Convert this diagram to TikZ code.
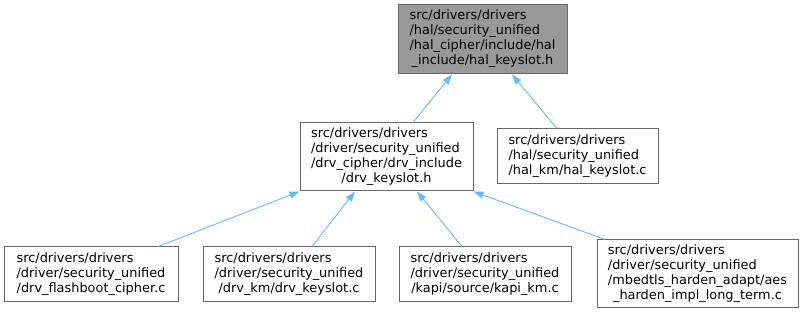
\documentclass[tikz,border=0pt]{standalone}
\usepackage{fontspec}
\setmainfont{DejaVu Sans}
\usepackage{xcolor}
\usetikzlibrary{arrows.meta}

\definecolor{edgeblue}{HTML}{63B8FF}
\definecolor{boxline}{HTML}{666666}
\definecolor{selfill}{HTML}{999999}

% lines flush left, the last one centred
\newcommand{\pathlines}[2]{\begin{tabular}{@{}l@{}}#1\\\multicolumn{1}{@{}c@{}}{#2}\end{tabular}}

\tikzset{
  file/.style={draw=boxline, line width=1pt, fill=white, inner sep=0pt,
    font=\fontsize{12.9}{15}\selectfont},
  self/.style={file, fill=selfill},
  dep/.style={draw=edgeblue, line width=0.9pt, -{Triangle[length=10pt,width=7pt]}}
}

\begin{document}
\begin{tikzpicture}[x=1pt,y=1pt]
    \useasboundingbox (0,0) rectangle (804,315);

    % the header and its two includers
    \node[self, minimum width=169pt, minimum height=69pt] (halh) at (482.5,275.5)
      {\pathlines{src/drivers/drivers\\/hal/security\_unified\\/hal\_cipher/include/hal}{\_include/hal\_keyslot.h}};
    \node[file, minimum width=173pt, minimum height=68pt] (drvh) at (386.5,158)
      {\pathlines{src/drivers/drivers\\/driver/security\_unified\\/drv\_cipher/drv\_include}{/drv\_keyslot.h}};
    \node[file, minimum width=161pt, minimum height=55pt] (halc) at (577.5,158.5)
      {\pathlines{src/drivers/drivers\\/hal/security\_unified}{/hal\_km/hal\_keyslot.c}};

    % files that include drv_keyslot.h
    \node[file, minimum width=174pt, minimum height=55pt] (flashc) at (91,40.5)
      {\pathlines{src/drivers/drivers\\/driver/security\_unified}{/drv\_flashboot\_cipher.c}};
    \node[file, minimum width=172pt, minimum height=55pt] (drvkmc) at (289,40.5)
      {\pathlines{src/drivers/drivers\\/driver/security\_unified}{/drv\_km/drv\_keyslot.c}};
    \node[file, minimum width=172pt, minimum height=55pt] (kapic) at (485,40.5)
      {\pathlines{src/drivers/drivers\\/driver/security\_unified}{/kapi/source/kapi\_km.c}};
    \node[file, minimum width=201pt, minimum height=68pt] (aesc) at (697.5,41)
      {\pathlines{src/drivers/drivers\\/driver/security\_unified\\/mbedtls\_harden\_adapt/aes}{\_harden\_impl\_long\_term.c}};

    % include edges
    \draw[dep] ([xshift=26.5pt]drvh.north) -- ([xshift=-30.5pt]halh.south);
    \draw[dep] ([xshift=-20.5pt]halc.north) -- ([xshift=29.5pt]halh.south);
    \draw[dep] ([xshift=67pt]flashc.north) -- (drvh.south west);
    \draw[dep] ([xshift=23pt]drvkmc.north) -- ([xshift=-31.5pt]drvh.south);
    \draw[dep] ([xshift=-23pt]kapic.north) -- ([xshift=30.5pt]drvh.south);
    \draw[dep] ([xshift=-92.5pt]aesc.north) -- (drvh.south east);
\end{tikzpicture}
\end{document}
